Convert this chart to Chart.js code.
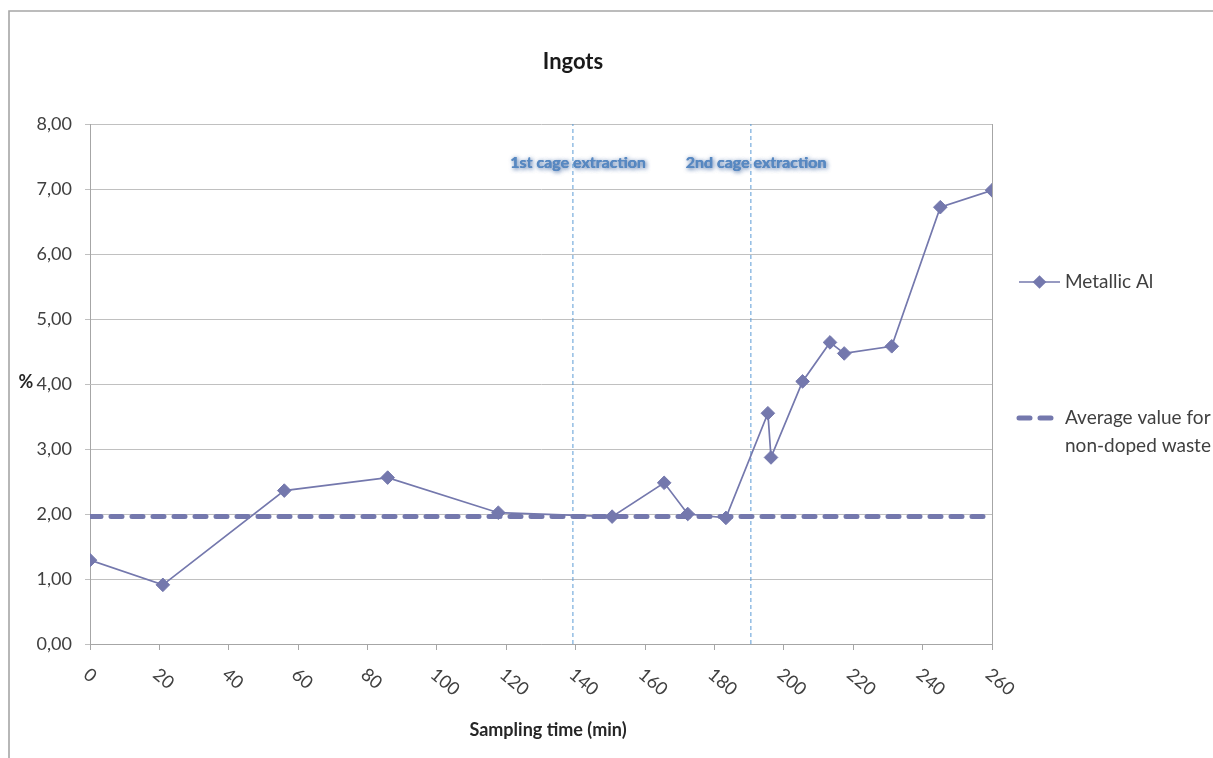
<!DOCTYPE html>
<html>
<head>
<meta charset="utf-8">
<title>Ingots</title>
<script src="https://cdn.jsdelivr.net/npm/chart.js@4.4.1/dist/chart.umd.min.js"></script>
<style>
html, body { margin: 0; padding: 0; background: #fff; }
canvas { display: block; }
</style>
</head>
<body>
<canvas id="chart" width="1213" height="758"></canvas>
<script>
// Sampling times (min) and metallic Al content (%) measured in the ingots
const sampleTimes = [0, 21, 56, 85.8, 117.7, 150.5, 165.5, 172.3, 183.3, 195.4, 196.3, 205.4, 213.3, 217.4, 231.1, 245.1, 260];
const metallicAl  = [1.29, 0.91, 2.36, 2.56, 2.02, 1.96, 2.48, 2.00, 1.94, 3.55, 2.87, 4.04, 4.64, 4.47, 4.58, 6.72, 6.98];

// Reference level measured on non-doped waste
const averageSpan = [0, 260];
const averageValue = 1.96;

// Cage extraction events
const extractionTimes  = [139.2, 190.5];
const extractionLabels = ['1st cage extraction', '2nd cage extraction'];

// Axis tick labels
const xTickLabels = ['0', '20', '40', '60', '80', '100', '120', '140', '160', '180', '200', '220', '240', '260'];
const yTickLabels = ['0,00', '1,00', '2,00', '3,00', '4,00', '5,00', '6,00', '7,00', '8,00'];

const SERIES_COLOR = '#7478ad';
const EXTRACTION_COLOR = '#5b9bd5';
const AXIS_COLOR = '#a6a6a6';
const TEXT_COLOR = '#404040';
const FONT = 'Lato, "Open Sans", sans-serif';

const datasets = [
  {
    label: 'Metallic Al',
    data: sampleTimes.map((t, i) => ({ x: t, y: metallicAl[i] })),
    showLine: true,
    borderColor: SERIES_COLOR,
    backgroundColor: SERIES_COLOR,
    borderWidth: 1.7,
    pointStyle: 'rectRot',
    pointRadius: 6.8,
    pointBorderWidth: 1,
    pointBackgroundColor: SERIES_COLOR,
    pointBorderColor: SERIES_COLOR
  },
  {
    label: 'Average value for\nnon-doped waste',
    data: averageSpan.map(t => ({ x: t, y: averageValue })),
    showLine: true,
    borderColor: SERIES_COLOR,
    borderWidth: 5,
    borderDash: [11, 10],
    borderCapStyle: 'round',
    pointRadius: 0
  }
];

// Vertical dashed markers for the extraction events
extractionTimes.forEach((t, i) => {
  datasets.push({
    label: extractionLabels[i],
    extraction: true,
    data: [{ x: t, y: 0 }, { x: t, y: 8 }],
    showLine: true,
    borderColor: EXTRACTION_COLOR,
    borderWidth: 1,
    borderDash: [4, 3],
    pointRadius: 0
  });
});

function drawDiamond(ctx, x, y, r) {
  ctx.beginPath();
  ctx.moveTo(x, y - r);
  ctx.lineTo(x + r, y);
  ctx.lineTo(x, y + r);
  ctx.lineTo(x - r, y);
  ctx.closePath();
  ctx.fill();
}

const decor = {
  id: 'decor',
  beforeDraw(chart) {
    const ctx = chart.ctx;
    ctx.save();
    ctx.fillStyle = '#ffffff';
    ctx.fillRect(0, 0, chart.width, chart.height);
    // outer chart frame
    ctx.strokeStyle = AXIS_COLOR;
    ctx.lineWidth = 1.6;
    ctx.beginPath();
    ctx.moveTo(9, chart.height);
    ctx.lineTo(9, 11);
    ctx.lineTo(chart.width, 11);
    ctx.stroke();
    ctx.restore();
  },
  beforeDatasetsDraw(chart) {
    const ctx = chart.ctx;
    const xs = chart.scales.x;
    ctx.save();
    ctx.font = 'bold 16px ' + FONT;
    ctx.textAlign = 'center';
    ctx.textBaseline = 'middle';
    ctx.fillStyle = '#5889c2';
    ctx.shadowColor = 'rgba(60, 100, 160, 0.6)';
    ctx.shadowBlur = 4;
    ctx.shadowOffsetX = 1;
    ctx.shadowOffsetY = 1;
    extractionTimes.forEach((t, i) => {
      const x = xs.getPixelForValue(t) + 5;
      ctx.fillText(extractionLabels[i], x, 163);
      ctx.fillText(extractionLabels[i], x + 0.4, 163);
    });
    ctx.restore();
  },
  afterDraw(chart) {
    const ctx = chart.ctx;
    const area = chart.chartArea;
    const xs = chart.scales.x;
    ctx.save();

    // right border of the plot area
    ctx.strokeStyle = AXIS_COLOR;
    ctx.lineWidth = 1;
    ctx.beginPath();
    ctx.moveTo(Math.round(area.right) + 0.5, area.top);
    ctx.lineTo(Math.round(area.right) + 0.5, area.bottom);
    ctx.stroke();

    // title
    ctx.fillStyle = '#1a1a1a';
    ctx.font = 'bold 22px ' + FONT;
    ctx.textAlign = 'center';
    ctx.textBaseline = 'middle';
    ctx.fillText('Ingots', 573, 62);

    // y axis title
    ctx.fillStyle = '#262626';
    ctx.font = 'bold 18px ' + FONT;
    ctx.fillText('%', 26, 382);

    // x axis title
    ctx.fillText('Sampling time (min)', 548, 730);

    // slanted x tick labels
    ctx.fillStyle = TEXT_COLOR;
    ctx.font = '18px ' + FONT;
    ctx.textAlign = 'left';
    ctx.textBaseline = 'middle';
    xTickLabels.forEach(lbl => {
      const px = xs.getPixelForValue(Number(lbl));
      ctx.save();
      ctx.translate(px - 4, 672);
      ctx.rotate(40 * Math.PI / 180);
      ctx.fillText(lbl, 0, 0);
      ctx.restore();
    });

    // legend
    const legendRows = [282, 418];
    ctx.font = '19px ' + FONT;
    ctx.fillStyle = TEXT_COLOR;
    chart.data.datasets.forEach((ds, i) => {
      if (ds.extraction) return;
      const y = legendRows[i];
      ctx.save();
      ctx.strokeStyle = ds.borderColor;
      ctx.fillStyle = ds.borderColor;
      ctx.lineWidth = ds.borderWidth;
      ctx.lineCap = ds.borderCapStyle || 'butt';
      ctx.setLineDash(ds.borderDash || []);
      ctx.beginPath();
      ctx.moveTo(1019, y);
      ctx.lineTo(1060, y);
      ctx.stroke();
      if (ds.pointRadius > 0) drawDiamond(ctx, 1039.5, y, ds.pointRadius);
      ctx.restore();
      ds.label.split('\n').forEach((line, k) => {
        ctx.fillText(line, 1065, y + k * 28);
      });
    });

    ctx.restore();
  }
};

new Chart(document.getElementById('chart'), {
  type: 'scatter',
  data: { datasets },
  options: {
    responsive: false,
    devicePixelRatio: 1,
    animation: false,
    layout: { padding: { top: 124, right: 221, bottom: 0, left: 0 } },
    plugins: {
      legend: { display: false },
      title: { display: false },
      tooltip: { enabled: false }
    },
    scales: {
      x: {
        type: 'linear',
        min: 0,
        max: 260,
        ticks: { stepSize: 20, display: false },
        grid: { drawOnChartArea: false, drawTicks: true, tickLength: 6, color: AXIS_COLOR },
        border: { color: AXIS_COLOR },
        afterFit(scale) { scale.height = 114; }
      },
      y: {
        min: 0,
        max: 8,
        ticks: {
          stepSize: 1,
          padding: 13,
          color: TEXT_COLOR,
          font: { family: FONT, size: 18 },
          callback: v => yTickLabels[v] ?? ''
        },
        grid: { color: '#c0c0c0', tickLength: 5 },
        border: { color: AXIS_COLOR },
        afterFit(scale) { scale.width = 90; }
      }
    }
  },
  plugins: [decor]
});
</script>
</body>
</html>
